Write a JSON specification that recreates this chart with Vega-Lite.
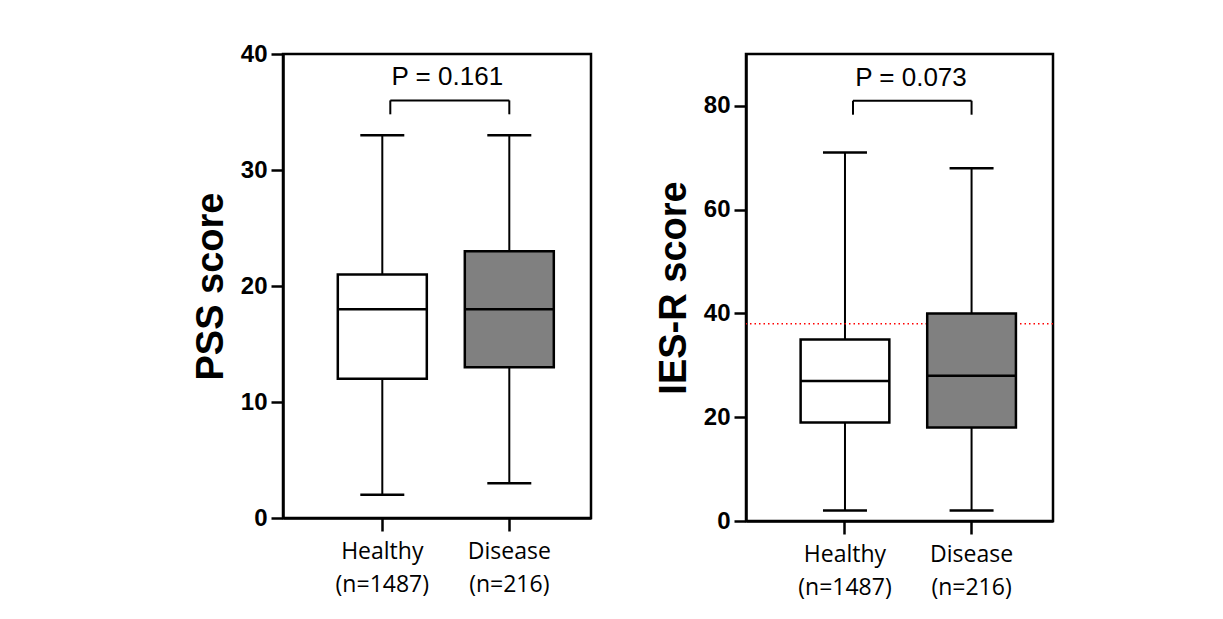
{
  "$schema": "https://vega.github.io/schema/vega-lite/v6.json",
  "padding": {"left": 191, "top": 40, "right": 5, "bottom": 5},
  "background": "white",
  "datasets": {
    "pss": [
      {"group": "Healthy (n=1487)", "lower": 2, "q1": 12, "median": 18, "q3": 21, "upper": 33},
      {"group": "Disease (n=216)", "lower": 3, "q1": 13, "median": 18, "q3": 23, "upper": 33}
    ],
    "ies": [
      {"group": "Healthy (n=1487)", "lower": 2, "q1": 19, "median": 27, "q3": 35, "upper": 71},
      {"group": "Disease (n=216)", "lower": 2, "q1": 18, "median": 28, "q3": 40, "upper": 68}
    ],
    "pssP": [
      {"from": "Healthy (n=1487)", "to": "Disease (n=216)", "top": 36, "leg": 34.8, "labelY": 37.3, "label": "P = 0.161"}
    ],
    "iesP": [
      {"from": "Healthy (n=1487)", "to": "Disease (n=216)", "top": 81, "leg": 78.3, "labelY": 83.8, "label": "P = 0.073"}
    ],
    "cut": [{"cutoff": 38}]
  },
  "hconcat": [
    {
      "width": 308,
      "height": 464,
      "layer": [
        {
          "data": {"name": "pss"},
          "mark": {"type": "rule", "color": "black", "strokeWidth": 2},
          "encoding": {
            "x": {"field": "group", "type": "nominal", "title": null, "sort": ["Healthy (n=1487)", "Disease (n=216)"], "scale": {"domain": ["Healthy (n=1487)", "Disease (n=216)"], "paddingInner": 0.2992, "paddingOuter": 0.3622, "align": 0.5957}},
            "y": {"field": "lower", "type": "quantitative", "title": "PSS score", "scale": {"domain": [0, 40], "nice": false}, "axis": {"values": [0, 10, 20, 30, 40]}},
            "y2": {"field": "upper"}
          }
        },
        {
          "data": {"name": "pss"},
          "mark": {"type": "tick", "color": "black", "opacity": 1, "size": 44, "thickness": 2.5},
          "encoding": {
            "x": {"field": "group", "type": "nominal", "title": null},
            "y": {"field": "lower", "type": "quantitative", "title": "PSS score"}
          }
        },
        {
          "data": {"name": "pss"},
          "mark": {"type": "tick", "color": "black", "opacity": 1, "size": 44, "thickness": 2.5},
          "encoding": {
            "x": {"field": "group", "type": "nominal", "title": null},
            "y": {"field": "upper", "type": "quantitative", "title": "PSS score"}
          }
        },
        {
          "data": {"name": "pss"},
          "mark": {"type": "bar", "stroke": "black", "strokeWidth": 2.5, "opacity": 1},
          "encoding": {
            "x": {"field": "group", "type": "nominal", "title": null},
            "y": {"field": "q1", "type": "quantitative", "title": "PSS score"},
            "y2": {"field": "q3"},
            "fill": {"field": "group", "type": "nominal", "legend": null, "scale": {"domain": ["Healthy (n=1487)", "Disease (n=216)"], "range": ["white", "#808080"]}}
          }
        },
        {
          "data": {"name": "pss"},
          "mark": {"type": "tick", "color": "black", "opacity": 1, "size": 89, "thickness": 2.5},
          "encoding": {
            "x": {"field": "group", "type": "nominal", "title": null},
            "y": {"field": "median", "type": "quantitative", "title": "PSS score"}
          }
        },
        {
          "data": {"name": "pssP"},
          "mark": {"type": "rule", "color": "black", "strokeWidth": 2, "xOffset": 8},
          "encoding": {
            "x": {"field": "from", "type": "nominal", "title": null},
            "x2": {"field": "to"},
            "y": {"field": "top", "type": "quantitative", "title": "PSS score"}
          }
        },
        {
          "data": {"name": "pssP"},
          "mark": {"type": "rule", "color": "black", "strokeWidth": 2, "xOffset": 8},
          "encoding": {
            "x": {"field": "from", "type": "nominal", "title": null},
            "y": {"field": "top", "type": "quantitative", "title": "PSS score"},
            "y2": {"field": "leg"}
          }
        },
        {
          "data": {"name": "pssP"},
          "mark": {"type": "rule", "color": "black", "strokeWidth": 2},
          "encoding": {
            "x": {"field": "to", "type": "nominal", "title": null},
            "y": {"field": "top", "type": "quantitative", "title": "PSS score"},
            "y2": {"field": "leg"}
          }
        },
        {
          "data": {"name": "pssP"},
          "mark": {"type": "text", "font": "Liberation Sans", "fontSize": 26, "color": "black", "align": "center", "baseline": "alphabetic", "dx": 65},
          "encoding": {
            "x": {"field": "from", "type": "nominal", "title": null},
            "y": {"field": "labelY", "type": "quantitative", "title": "PSS score"},
            "text": {"field": "label"}
          }
        }
      ]
    },
    {
      "width": 307,
      "height": 467,
      "layer": [
        {
          "data": {"name": "ies"},
          "mark": {"type": "rule", "color": "black", "strokeWidth": 2},
          "encoding": {
            "x": {"field": "group", "type": "nominal", "title": null, "sort": ["Healthy (n=1487)", "Disease (n=216)"], "scale": {"domain": ["Healthy (n=1487)", "Disease (n=216)"], "paddingInner": 0.2992, "paddingOuter": 0.3622, "align": 0.5957}},
            "y": {"field": "lower", "type": "quantitative", "title": "IES-R score", "scale": {"domain": [0, 90], "nice": false}, "axis": {"values": [0, 20, 40, 60, 80]}},
            "y2": {"field": "upper"}
          }
        },
        {
          "data": {"name": "ies"},
          "mark": {"type": "tick", "color": "black", "opacity": 1, "size": 44, "thickness": 2.5},
          "encoding": {
            "x": {"field": "group", "type": "nominal", "title": null},
            "y": {"field": "lower", "type": "quantitative", "title": "IES-R score"}
          }
        },
        {
          "data": {"name": "ies"},
          "mark": {"type": "tick", "color": "black", "opacity": 1, "size": 44, "thickness": 2.5},
          "encoding": {
            "x": {"field": "group", "type": "nominal", "title": null},
            "y": {"field": "upper", "type": "quantitative", "title": "IES-R score"}
          }
        },
        {
          "data": {"name": "cut"},
          "mark": {"type": "rule", "color": "#ff0000", "strokeWidth": 1.5, "strokeDash": [1.5, 3]},
          "encoding": {
            "y": {"field": "cutoff", "type": "quantitative", "title": "IES-R score"}
          }
        },
        {
          "data": {"name": "ies"},
          "mark": {"type": "bar", "stroke": "black", "strokeWidth": 2.5, "opacity": 1},
          "encoding": {
            "x": {"field": "group", "type": "nominal", "title": null},
            "y": {"field": "q1", "type": "quantitative", "title": "IES-R score"},
            "y2": {"field": "q3"},
            "fill": {"field": "group", "type": "nominal", "legend": null, "scale": {"domain": ["Healthy (n=1487)", "Disease (n=216)"], "range": ["white", "#808080"]}}
          }
        },
        {
          "data": {"name": "ies"},
          "mark": {"type": "tick", "color": "black", "opacity": 1, "size": 89, "thickness": 2.5},
          "encoding": {
            "x": {"field": "group", "type": "nominal", "title": null},
            "y": {"field": "median", "type": "quantitative", "title": "IES-R score"}
          }
        },
        {
          "data": {"name": "iesP"},
          "mark": {"type": "rule", "color": "black", "strokeWidth": 2, "xOffset": 8},
          "encoding": {
            "x": {"field": "from", "type": "nominal", "title": null},
            "x2": {"field": "to"},
            "y": {"field": "top", "type": "quantitative", "title": "IES-R score"}
          }
        },
        {
          "data": {"name": "iesP"},
          "mark": {"type": "rule", "color": "black", "strokeWidth": 2, "xOffset": 8},
          "encoding": {
            "x": {"field": "from", "type": "nominal", "title": null},
            "y": {"field": "top", "type": "quantitative", "title": "IES-R score"},
            "y2": {"field": "leg"}
          }
        },
        {
          "data": {"name": "iesP"},
          "mark": {"type": "rule", "color": "black", "strokeWidth": 2},
          "encoding": {
            "x": {"field": "to", "type": "nominal", "title": null},
            "y": {"field": "top", "type": "quantitative", "title": "IES-R score"},
            "y2": {"field": "leg"}
          }
        },
        {
          "data": {"name": "iesP"},
          "mark": {"type": "text", "font": "Liberation Sans", "fontSize": 26, "color": "black", "align": "center", "baseline": "alphabetic", "dx": 66},
          "encoding": {
            "x": {"field": "from", "type": "nominal", "title": null},
            "y": {"field": "labelY", "type": "quantitative", "title": "IES-R score"},
            "text": {"field": "label"}
          }
        }
      ]
    }
  ],
  "spacing": 155,
  "bounds": "flush",
  "config": {
    "view": {"stroke": "black", "strokeWidth": 2.5},
    "axis": {
      "domainColor": "black",
      "domainWidth": 2.5,
      "tickColor": "black",
      "tickWidth": 2.5,
      "grid": false,
      "labelColor": "black",
      "titleColor": "black"
    },
    "axisY": {
      "tickSize": 12,
      "labelFont": "Liberation Sans",
      "labelFontWeight": "bold",
      "labelFontSize": 24,
      "labelPadding": 4,
      "titleFont": "Liberation Sans",
      "titleFontSize": 38,
      "titleFontWeight": "bold",
      "titlePadding": 10
    },
    "axisX": {
      "tickSize": 13,
      "labelFont": "Open Sans",
      "labelFontSize": 23,
      "labelPadding": 9,
      "labelAngle": 0,
      "labelLineHeight": 33,
      "labelBaseline": "top",
      "labelExpr": "split(datum.label, ' ')"
    }
  }
}
